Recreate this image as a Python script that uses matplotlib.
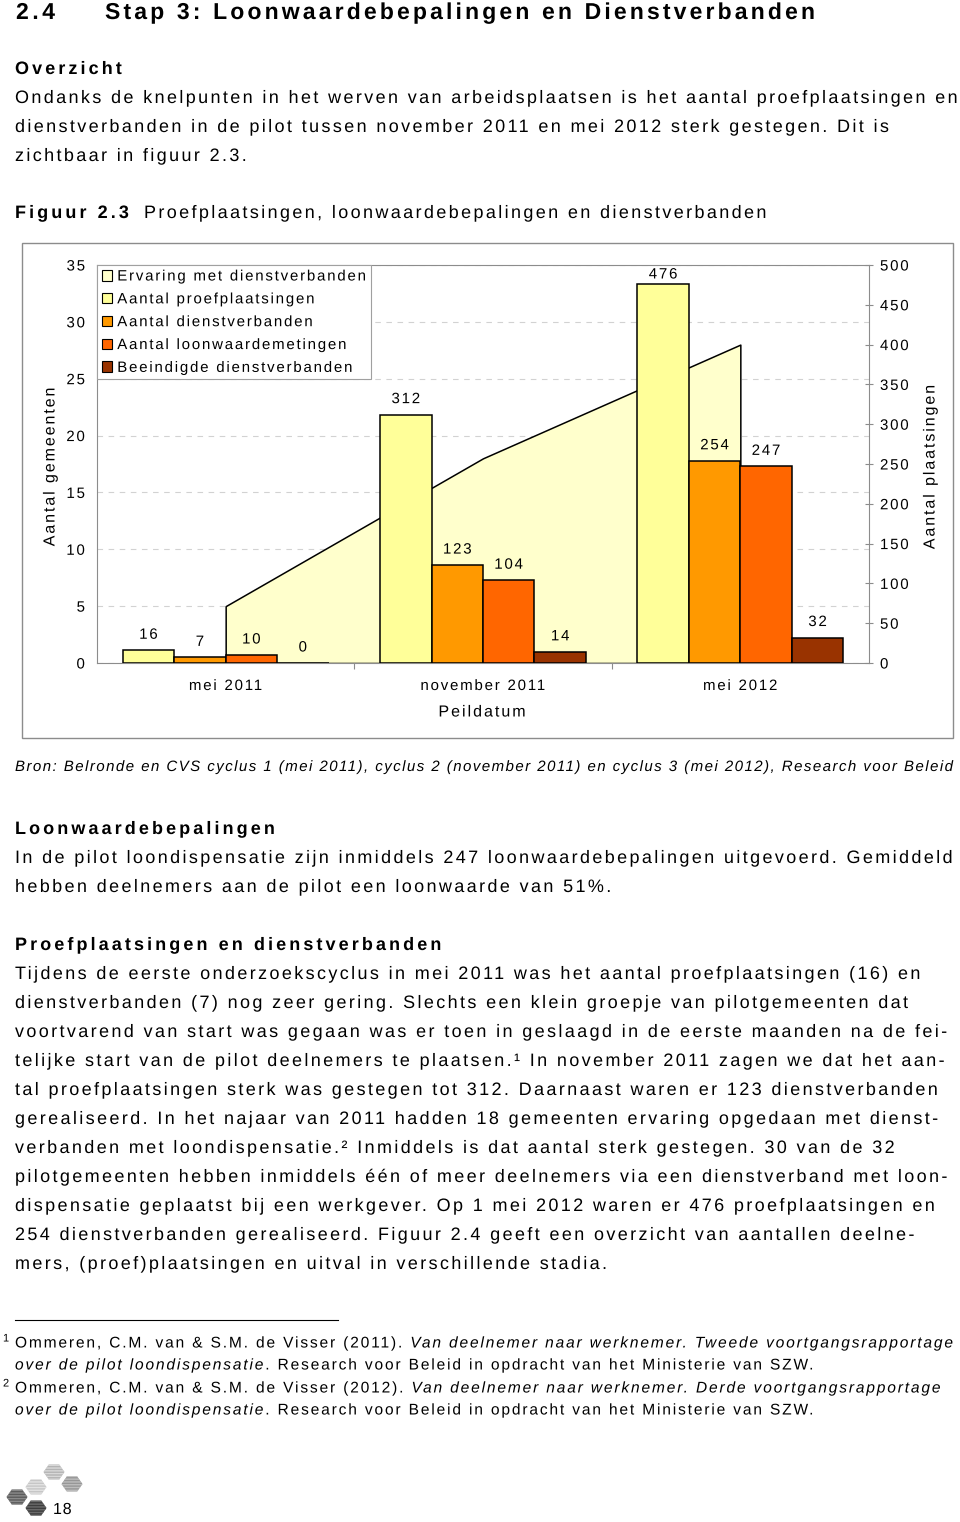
import numpy as np
import matplotlib
matplotlib.use('Agg')
import matplotlib.pyplot as plt
from matplotlib import patheffects
from matplotlib.font_manager import FontProperties
from matplotlib.patches import Patch, Polygon, Rectangle
from matplotlib.path import Path
from matplotlib.textpath import text_to_path

# chart data (figuur 2.3)
dates = ['mei 2011', 'november 2011', 'mei 2012']
ervaring = [5, 18, 28]                 # gemeenten, left axis (area)
proefplaatsingen = [16, 312, 476]
dienstverbanden = [7, 123, 254]
loonwaardemetingen = [10, 104, 247]
beeindigd = [0, 14, 32]

area_name = 'Ervaring met dienstverbanden'
bar_names = ['Aantal proefplaatsingen', 'Aantal dienstverbanden',
             'Aantal loonwaardemetingen', 'Beeindigde dienstverbanden']
area_color = '#FFFFCC'
bar_colors = ['#FFFF99', '#FF9900', '#FF6600', '#993300']

FONT = 'Liberation Sans'
W, H, DPI = 960, 1522, 100
PT = 72 / DPI   # px -> pt
GREY = '#8c8c8c'
CHART_TRACK = 0.12


class Tracking(patheffects.AbstractPathEffect):
    """letter spacing: shift every glyph by track * char index"""

    def __init__(self, artist, track_em, anchor=None):
        super().__init__()
        self.artist = artist
        self.track = track_em * text_to_path.FONT_SCALE
        self.anchor = anchor

    def draw_path(self, renderer, gc, tpath, affine, rgbFace=None):
        s = self.artist.get_text()
        codes = tpath.codes
        if codes is None or len(s) < 2:
            renderer.draw_path(gc, tpath, affine, rgbFace)
            return
        font = text_to_path._get_font(self.artist.get_fontproperties())
        info = text_to_path.get_glyphs_with_font(font, s)[0]
        xs = np.array([g[1] for g in info])
        v = tpath.vertices.copy()
        starts = list(np.flatnonzero(codes == Path.MOVETO)) + [len(codes)]
        for a, b in zip(starts[:-1], starts[1:]):
            keep = codes[a:b] != Path.CLOSEPOLY
            if not keep.any():
                continue
            cx = v[a:b][keep, 0].mean()
            i = max(np.searchsorted(xs, cx, side='right') - 1, 0)
            v[a:b, 0] += self.track * i
        anchor = self.anchor or self.artist.get_horizontalalignment()
        total = self.track * (len(s) - 1)
        v[:, 0] -= {'left': 0.0, 'center': total / 2, 'right': total}[anchor]
        renderer.draw_path(gc, Path(v, codes), affine, rgbFace)


def track_text(t, track):
    t.set_path_effects([Tracking(t, track)])
    return t


def adv_width(s, size, weight='normal', style='normal'):
    prop = FontProperties(family=FONT, weight=weight, style=style, size=size)
    font = text_to_path._get_font(prop)
    info = text_to_path.get_glyphs_with_font(font, s)[0]
    g = font.load_char(ord(s[-1]))
    return (info[-1][1] + g.linearHoriAdvance / 65536) * size / text_to_path.FONT_SCALE


def fit_track(segs, size, width, weight='normal'):
    natural = sum(adv_width(s, size, weight, st) for s, st in segs)
    n = sum(len(s) for s, _ in segs)
    return (width - natural) / (n - 1) / size


fig = plt.figure(figsize=(W / DPI, H / DPI), dpi=DPI, facecolor='white')
page = fig.add_axes([0, 0, 1, 1])
page.set_xlim(0, W)
page.set_ylim(H, 0)
page.set_axis_off()


def put(x, y, s, size, weight='normal', style='normal', track=None, width=None,
        ha='left', va='baseline', rotation=0):
    if track is None:
        track = 0.172 if weight == 'bold' else 0.132
    if width is not None:
        track = fit_track([(s, style)], size, width, weight)
    t = page.text(x, y, s, fontsize=size * PT, fontweight=weight, fontstyle=style,
                  family=FONT, ha=ha, va=va, rotation=rotation, color='black')
    return track_text(t, track)


def put_line(x, y, segs, size, track):
    for s, st in segs:
        put(x, y, s, size, style=st, track=track)
        x += adv_width(s, size, 'normal', st) + track * size * len(s)


BODY = 18

# heading + overzicht
put(16, 19, '2.4', 23, weight='bold', width=39)
put(105, 19, 'Stap 3: Loonwaardebepalingen en Dienstverbanden', 23, weight='bold', width=710)
put(15, 74, 'Overzicht', BODY, weight='bold')
intro = [
    'Ondanks de knelpunten in het werven van arbeidsplaatsen is het aantal proefplaatsingen en',
    'dienstverbanden in de pilot tussen november 2011 en mei 2012 sterk gestegen. Dit is',
    'zichtbaar in figuur 2.3.',
]
for k, line in enumerate(intro):
    put(15, 103 + 29 * k, line, BODY)

put(15, 218, 'Figuur 2.3', BODY, weight='bold')
put(144, 218, 'Proefplaatsingen, loonwaardebepalingen en dienstverbanden', BODY)

# chart frame
page.add_patch(Rectangle((22, 243), 931, 495, fill=False, edgecolor=GREY, linewidth=1))

ax = fig.add_axes([97 / W, 1 - 663 / H, 772 / W, 398 / H])
ax2 = ax.twinx()
x = np.arange(len(dates))

ax.fill_between(x, ervaring, facecolor=area_color, edgecolor='black', linewidth=1.1, zorder=1)
ax.set_xlim(-0.5, len(dates) - 0.5)
ax.set_ylim(0, 35)
ax.set_yticks(range(0, 36, 5))
ax.set_axisbelow(True)
ax.yaxis.grid(True, linestyle=(0, (5, 5)), color='#d2d2d2', linewidth=0.8)
ax.tick_params(axis='y', length=0, pad=12 * PT, labelsize=15 * PT)
ax.set_xticks(x[:-1] + 0.5)
ax.set_xticklabels([])
ax.tick_params(axis='x', which='major', direction='out', length=6 * PT, color=GREY, width=0.8)
ax.set_xticks(x, dates, minor=True)
ax.tick_params(axis='x', which='minor', length=0, pad=16 * PT, labelsize=15 * PT)
for side in ['left', 'top', 'bottom']:
    ax.spines[side].set_color(GREY)
    ax.spines[side].set_linewidth(0.8)
ax.spines['right'].set_visible(False)

width = 0.2
offsets = (np.arange(len(bar_names)) - (len(bar_names) - 1) / 2) * width
series = [proefplaatsingen, dienstverbanden, loonwaardemetingen, beeindigd]
ax2.set_ylim(0, 500)
ax2.set_yticks(range(0, 501, 50))
px_per_unit = 398 / 500
for vals, name, col, off in zip(series, bar_names, bar_colors, offsets):
    ax2.bar(x + off, vals, width, color=col, edgecolor='black', linewidth=1.1, label=name)
    for xi, v in zip(x, vals):
        dy = min(15.5, (500 - v) * px_per_unit - 9.5)
        t = ax2.annotate(str(v), (xi + off, v), xytext=(0, dy * PT), textcoords='offset points',
                         ha='center', va='center', fontsize=15 * PT, family=FONT)
        track_text(t, CHART_TRACK)
ax2.tick_params(axis='y', direction='inout', length=8 * PT, color=GREY, width=0.8,
                pad=7 * PT, labelsize=15 * PT)
for side in ['left', 'top', 'bottom']:
    ax2.spines[side].set_visible(False)
ax2.spines['right'].set_color(GREY)
ax2.spines['right'].set_linewidth(0.8)

handles = [Patch(facecolor=area_color, edgecolor='black', linewidth=0.8)] + \
          [Patch(facecolor=c, edgecolor='black', linewidth=0.8) for c in bar_colors]
leg = ax2.legend(handles, [area_name] + bar_names, loc='upper left', bbox_to_anchor=(0, 1),
                 borderaxespad=0, frameon=False,
                 prop=FontProperties(family=FONT, size=15 * PT),
                 handlelength=0.7, handleheight=0.7, handletextpad=0.35,
                 labelspacing=0.59, borderpad=0.3)
for t in leg.get_texts():
    track_text(t, CHART_TRACK)

for lab in ax.get_yticklabels() + ax.get_xticklabels(minor=True) + ax2.get_yticklabels():
    lab.set_family(FONT)
    track_text(lab, CHART_TRACK)

# legend frame: widen the measured box by the letter spacing of the longest label
fig.canvas.draw()
bb = leg.get_window_extent()
extra = max(CHART_TRACK * 15 * (len(t.get_text()) - 1) for t in leg.get_texts())
inv = ax2.transAxes.inverted()
(fx0, fy0), (fx1, fy1) = inv.transform([(bb.x0, bb.y0), (bb.x1 + extra, bb.y1)])
ax2.add_patch(Rectangle((fx0, fy0), fx1 - fx0, fy1 - fy0, transform=ax2.transAxes,
                        facecolor='white', edgecolor='#a0a0a0', linewidth=0.8,
                        zorder=4.5, clip_on=False))

put(50, 467, 'Aantal gemeenten', 16, track=0.12, ha='center', va='center', rotation=90)
put(930, 467, 'Aantal plaatsingen', 16, track=0.12, ha='center', va='center', rotation=90)
put(482, 712, 'Peildatum', 16, track=0.125, ha='center', va='center')

# bron
put(15, 771, 'Bron: Belronde en CVS cyclus 1 (mei 2011), cyclus 2 (november 2011) en cyclus 3 '
             '(mei 2012), Research voor Beleid', 15, style='italic', width=938)

put(15, 834, 'Loonwaardebepalingen', BODY, weight='bold')
loon = [
    'In de pilot loondispensatie zijn inmiddels 247 loonwaardebepalingen uitgevoerd. Gemiddeld',
    'hebben deelnemers aan de pilot een loonwaarde van 51%.',
]
for k, line in enumerate(loon):
    put(15, 863 + 29 * k, line, BODY)

put(15, 950, 'Proefplaatsingen en dienstverbanden', BODY, weight='bold')
proef = [
    'Tijdens de eerste onderzoekscyclus in mei 2011 was het aantal proefplaatsingen (16) en',
    'dienstverbanden (7) nog zeer gering. Slechts een klein groepje van pilotgemeenten dat',
    'voortvarend van start was gegaan was er toen in geslaagd in de eerste maanden na de fei-',
    'telijke start van de pilot deelnemers te plaatsen.\u00b9 In november 2011 zagen we dat het aan-',
    'tal proefplaatsingen sterk was gestegen tot 312. Daarnaast waren er 123 dienstverbanden',
    'gerealiseerd. In het najaar van 2011 hadden 18 gemeenten ervaring opgedaan met dienst-',
    'verbanden met loondispensatie.\u00b2 Inmiddels is dat aantal sterk gestegen. 30 van de 32',
    'pilotgemeenten hebben inmiddels \u00e9\u00e9n of meer deelnemers via een dienstverband met loon-',
    'dispensatie geplaatst bij een werkgever. Op 1 mei 2012 waren er 476 proefplaatsingen en',
    '254 dienstverbanden gerealiseerd. Figuur 2.4 geeft een overzicht van aantallen deelne-',
    'mers, (proef)plaatsingen en uitval in verschillende stadia.',
]
for k, line in enumerate(proef):
    put(15, 979 + 29 * k, line, BODY)

# footnotes
page.plot([15, 338], [1320, 1320], color='black', linewidth=0.8)
FN = 15.5
notes = [
    ('1', [('Ommeren, C.M. van & S.M. de Visser (2011). ', 'normal'),
           ('Van deelnemer naar werknemer. Tweede voortgangsrapportage', 'italic')]),
    ('2', [('Ommeren, C.M. van & S.M. de Visser (2012). ', 'normal'),
           ('Van deelnemer naar werknemer. Derde voortgangsrapportage', 'italic')]),
]
second = [('over de pilot loondispensatie', 'italic'),
          ('. Research voor Beleid in opdracht van het Ministerie van SZW.', 'normal')]
fn_track = fit_track(notes[0][1], FN, 938)
for k, (num, segs) in enumerate(notes):
    y0 = 1347.5 + 45 * k
    put(3, y0 - 6, num, 11, track=0)
    put_line(15, y0, segs, FN, fn_track)
    put_line(15, y0 + 22, second, FN, fn_track)

# page logo + number
hexes = [(54, 1472, '#b4b4b4', '#d8d8d8'), (72, 1484, '#979797', '#bdbdbd'),
         (36, 1487, '#c6c6c6', '#e2e2e2'), (17, 1497, '#5c5c5c', '#8a8a8a'),
         (36, 1508, '#3e3e3e', '#6a6a6a')]
a, b = 10.5, 7.5
for cx, cy, c, hc in hexes:
    pts = [(cx - a, cy), (cx - a / 2, cy - b), (cx + a / 2, cy - b),
           (cx + a, cy), (cx + a / 2, cy + b), (cx - a / 2, cy + b)]
    page.add_patch(Polygon(pts, closed=True, facecolor=c, edgecolor=hc, linewidth=0,
                           hatch='------'))
put(53, 1514, '18', 16, track=0.05)

fig.savefig('out.png', dpi=DPI, facecolor='white')
